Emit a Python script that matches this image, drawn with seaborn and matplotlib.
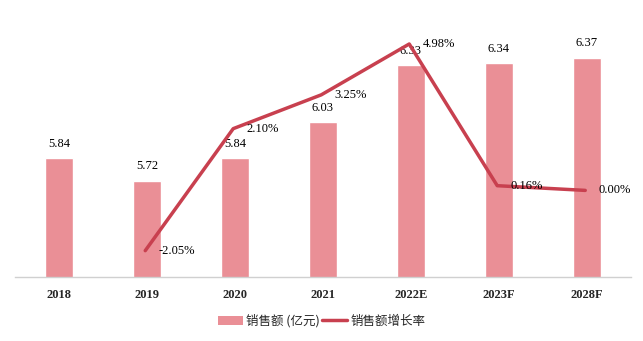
import matplotlib
matplotlib.use("Agg")
import matplotlib.pyplot as plt
import seaborn as sns
import pandas as pd
from matplotlib.patches import Patch
from matplotlib.lines import Line2D

years = ["2018", "2019", "2020", "2021", "2022E", "2023F", "2028F"]
sales = [5.84, 5.72, 5.84, 6.03, 6.33, 6.34, 6.37]
growth_years = ["2019", "2020", "2021", "2022E", "2023F", "2028F"]
growth = [-2.05, 2.10, 3.25, 4.98, 0.16, 0.00]

sns.set_theme(style="white")
plt.rcParams['font.family'] = ['Liberation Serif', 'Noto Sans CJK SC', 'DejaVu Sans']

bar_color = "#EA8F96"
line_color = "#C8404F"

W, H = 643, 341
fig = plt.figure(figsize=(W / 100, H / 100), dpi=100)
ax = fig.add_axes([15 / W, (H - 277) / H, (631 - 15) / W, (277 - 10) / H])

df = pd.DataFrame({"year": years, "sales": sales})
sns.barplot(data=df, x="year", y="sales", color=bar_color, width=0.32,
            saturation=1, ax=ax, order=years)
ax.set_ylim(5.213, 6.621)
ax.set_xlim(-0.5, 6.5)
for i, v in enumerate(sales):
    ax.text(i, v + 0.045, f"{v:.2f}", ha="center", va="bottom", fontsize=9,
            color="black")

ax2 = ax.twinx()
gx = [years.index(y) - 0.02 for y in growth_years]
gdf = pd.DataFrame({"x": gx, "g": growth})
sns.lineplot(data=gdf, x="x", y="g", color=line_color, linewidth=2.5, ax=ax2)
ax2.set_ylim(-2.946, 6.136)
for x, g in zip(gx, growth):
    ax2.text(x + 0.15, g, f"{g:.2f}%", ha="left", va="center", fontsize=9,
             color="black")

for a in (ax, ax2):
    a.set_xlabel("")
    a.set_ylabel("")
    a.set_yticks([])
    for s in ("top", "right", "left"):
        a.spines[s].set_visible(False)
ax2.spines["bottom"].set_visible(False)
ax.spines["bottom"].set_color("#D0D0D0")
ax.spines["bottom"].set_linewidth(1)
ax.set_xticks(range(len(years)))
ax.set_xticklabels(years, fontsize=9, fontweight="bold")
ax.tick_params(axis="x", length=0, pad=9)

handles = [Patch(facecolor=bar_color, edgecolor="none"),
           Line2D([0], [0], color=line_color, linewidth=2.5)]
fig.legend(handles, ["销售额 (亿元)", "销售额增长率"], loc="center",
           bbox_to_anchor=(0.5, (H - 321) / H), ncol=2, frameon=False,
           prop={"family": ["Noto Sans CJK SC", "DejaVu Sans"], "size": 9},
           handlelength=2.0, handletextpad=0.3, columnspacing=0.1)

fig.savefig("out.png", dpi=100)
